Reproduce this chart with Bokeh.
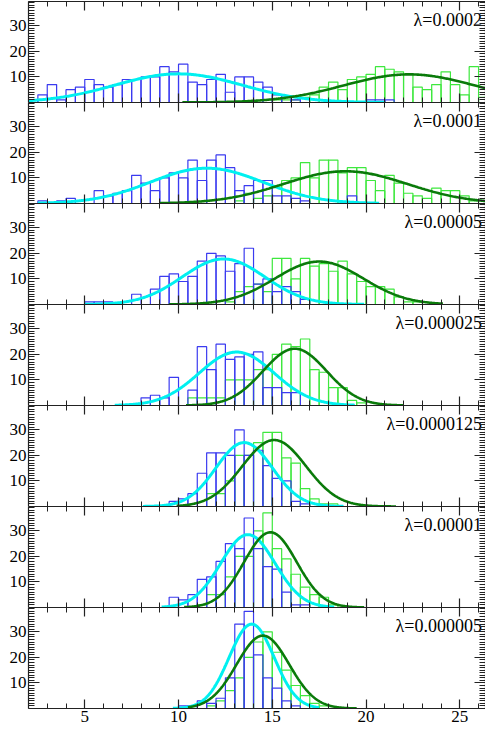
import numpy as np
from bokeh.plotting import figure
from bokeh.layouts import column
from bokeh.models import Range1d, LinearAxis, FixedTicker, SingleIntervalTicker
from bokeh.embed import file_html
from bokeh.resources import INLINE
from bokeh.core.properties import value

# ---------------- data ----------------
panel_labels = ["λ=0.0002", "λ=0.0001", "λ=0.00005", "λ=0.000025",
                "λ=0.0000125", "λ=0.00001", "λ=0.000005"]
BIN = 0.5

blue_start = [2.0, 2.5, 5.0, 8.0, 9.5, 9.5, 10.0]
blue_p1 = [1, 3, 7, 1, 5, 6, 9, 7, 6, 7, 9, 9, 10, 10, 14, 12, 15, 8, 7, 9,
           11, 4, 10, 10, 8, 6, 3, 2, 1, 0, 0, 0, 0, 0, 0, 0, 1, 1, 1]
blue_p2 = [1, 0, 1, 2, 0, 0, 5, 3, 4, 5, 11, 8, 5, 10, 12, 10, 17, 9, 17, 19,
           14, 5, 7, 9, 9, 3, 3, 2, 1, 0, 0, 0, 0, 3]
blue_p3 = [1, 1, 1, 0, 0, 4, 0, 6, 11, 12, 9, 11, 17, 20, 19, 13, 16, 22, 8, 10,
           5, 7, 5, 2]
blue_p4 = [3, 4, 3, 11, 0, 6, 23, 14, 24, 18, 19, 20, 21, 7, 7, 5, 5]
blue_p5 = [2, 3, 5, 13, 21, 21, 20, 30, 20, 22, 16, 11, 10, 2, 1]
blue_p6 = [4, 3, 5, 11, 12, 18, 25, 23, 35, 23, 16, 15, 6, 1, 1]
blue_p7 = [1, 1, 3, 2, 4, 12, 33, 38, 21, 12, 8, 3, 1]

green_start = [15.0, 13.0, 12.5, 10.5, 11.5, 11.0, 11.5]
green_p1 = [1, 1, 1, 2, 3, 6, 8, 5, 9, 10, 11, 14, 13, 12, 11, 6, 5, 7, 12, 7,
            3, 14, 2, 11]
green_p2 = [1, 4, 2, 3, 7, 9, 10, 16, 10, 17, 17, 12, 14, 14, 9, 5, 11, 8, 4, 3,
            2, 6, 5, 5, 3, 1]
green_p3 = [1, 5, 7, 8, 5, 18, 18, 10, 18, 15, 16, 13, 17, 12, 9, 7, 7, 6, 3, 1, 1]
green_p4 = [3, 3, 3, 3, 10, 10, 10, 14, 14, 20, 24, 23, 26, 14, 13, 7, 7, 2, 1]
green_p5 = [5, 5, 10, 20, 20, 25, 29, 29, 19, 17, 7, 3, 1, 1]
green_p6 = [1, 5, 5, 12, 20, 20, 30, 37, 23, 19, 13, 8, 5, 4, 1]
green_p7 = [1, 3, 7, 12, 20, 26, 30, 22, 15, 9, 5, 2, 1]

# Gaussian fits (mean, sigma, peak height, drawn range)
cyan_mu = [10.0, 11.5, 12.4, 13.1, 13.5, 13.7, 13.9]
cyan_sd = [3.4, 3.0, 2.2, 2.0, 1.5, 1.45, 1.2]
cyan_amp = [11.2, 13.8, 17.8, 20.9, 25.0, 28.5, 33.0]
cyan_lo = [2.0, 2.5, 5.0, 6.6, 8.1, 9.1, 9.7]
cyan_hi = [21.0, 20.7, 19.9, 19.4, 18.8, 18.3, 17.5]

dg_mu = [22.3, 18.9, 17.5, 16.2, 15.1, 14.9, 14.5]
dg_sd = [3.5, 3.3, 2.35, 1.7, 1.7, 1.4, 1.4]
dg_amp = [11.0, 12.6, 16.8, 22.2, 26.0, 29.4, 28.5]
dg_lo = [10.2, 9.0, 9.5, 10.4, 9.9, 10.3, 10.5]
dg_hi = [27.0, 27.0, 24.1, 22.0, 21.6, 19.9, 19.5]

x_ticks_major = 5
y_ticks = [10, 20, 30]

blues = [blue_p1, blue_p2, blue_p3, blue_p4, blue_p5, blue_p6, blue_p7]
greens = [green_p1, green_p2, green_p3, green_p4, green_p5, green_p6, green_p7]

# ---------------- styling ----------------
FONT = "Liberation Serif"
AX = "#222222"
BLUE = "#3b3bf0"
LGREEN = "#3ee83e"
CYAN = "#00f0f0"
DGREEN = "#0a7a0a"

xr = Range1d(2.0, 26.37)


def style_axis(ax, in_major, in_minor, show_labels):
    ax.axis_line_color = AX
    ax.axis_line_width = 1.2
    ax.major_tick_line_color = AX
    ax.minor_tick_line_color = AX
    ax.major_tick_line_width = 1.2
    ax.minor_tick_line_width = 1.0
    ax.major_tick_out = 0
    ax.minor_tick_out = 0
    ax.major_tick_in = in_major
    ax.minor_tick_in = in_minor
    if show_labels:
        ax.major_label_text_font = FONT
        ax.major_label_text_font_size = "17px"
        ax.major_label_text_color = "black"
        ax.major_label_standoff = 2
    else:
        # tick marks only: labels are not drawn at all
        ax.major_label_text_color = None
        ax.major_label_text_font_size = "1px"
        ax.major_label_standoff = 0


def xticker():
    return SingleIntervalTicker(interval=x_ticks_major, num_minor_ticks=5)


def yticker():
    return FixedTicker(ticks=y_ticks, minor_ticks=list(range(1, 40)))


figs = []
n = len(panel_labels)
for i in range(n):
    last = i == n - 1
    p = figure(x_range=xr, y_range=Range1d(0, 39.5),
               frame_width=457, frame_height=101,
               output_backend="svg", toolbar_location=None,
               min_border_left=28, min_border_right=0,
               min_border_top=1 if i == 0 else 0, min_border_bottom=0,
               x_axis_location=None, y_axis_location=None)
    p.xgrid.visible = False
    p.ygrid.visible = False
    p.outline_line_color = None
    p.background_fill_color = "white"
    p.border_fill_color = "white"

    bottom = LinearAxis(ticker=xticker())
    style_axis(bottom, 9, 5, last)
    p.add_layout(bottom, "below")
    top = LinearAxis(ticker=xticker())
    style_axis(top, 9, 5, False)
    p.add_layout(top, "above")
    left = LinearAxis(ticker=yticker())
    style_axis(left, 11, 6, True)
    p.add_layout(left, "left")
    right = LinearAxis(ticker=yticker())
    style_axis(right, 11, 6, False)
    p.add_layout(right, "right")

    # green histogram
    gc = np.array(greens[i], dtype=float)
    gl = green_start[i] + BIN * np.arange(len(gc))
    m = gc > 0
    p.quad(left=gl[m], right=gl[m] + BIN, bottom=0, top=gc[m],
           fill_color=None, line_color=LGREEN, line_width=1.2)

    # blue histogram
    bc = np.array(blues[i], dtype=float)
    bl = blue_start[i] + BIN * np.arange(len(bc))
    m = bc > 0
    p.quad(left=bl[m], right=bl[m] + BIN, bottom=0, top=bc[m],
           fill_color=None, line_color=BLUE, line_width=1.2)

    # gaussian fits
    xc = np.linspace(cyan_lo[i], cyan_hi[i], 300)
    yc = cyan_amp[i] * np.exp(-(xc - cyan_mu[i]) ** 2 / (2 * cyan_sd[i] ** 2))
    p.line(xc, yc, line_color=CYAN, line_width=3)

    xg = np.linspace(dg_lo[i], dg_hi[i], 300)
    yg = dg_amp[i] * np.exp(-(xg - dg_mu[i]) ** 2 / (2 * dg_sd[i] ** 2))
    p.line(xg, yg, line_color=DGREEN, line_width=2.6)

    p.text(x=[26.18], y=[32.3], text=[panel_labels[i]],
           text_font=value(FONT), text_font_size="18px",
           text_align="right", text_baseline="middle", text_color="black")
    figs.append(p)

layout = column(*figs, spacing=0)
open("out.html", "w").write(file_html(layout, INLINE))
